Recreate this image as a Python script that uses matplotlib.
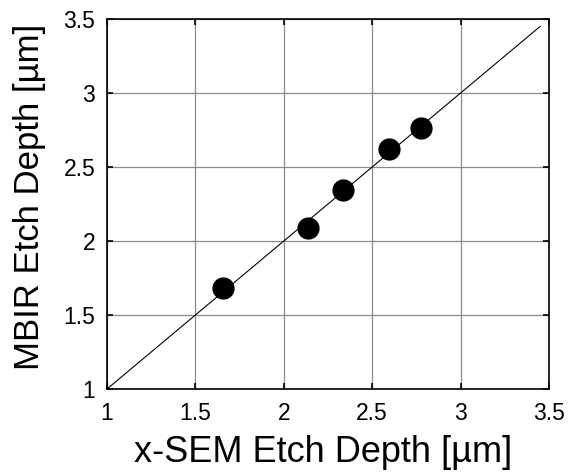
import matplotlib
matplotlib.use("Agg")
import matplotlib.pyplot as plt

plt.rcParams['font.family'] = ['Liberation Sans', 'DejaVu Sans']

# Data
xsem = [1.658, 2.137, 2.335, 2.596, 2.775]
mbir = [1.684, 2.090, 2.343, 2.624, 2.764]
ref_line = [1.0, 3.45]
ticks = [1, 1.5, 2, 2.5, 3, 3.5]
tick_labels = ['1', '1.5', '2', '2.5', '3', '3.5']

fig = plt.figure(figsize=(5.7, 4.76), dpi=100)
ax = fig.add_axes([107/570, 1-389/476, (549-107)/570, (389-19)/476])

ax.plot(ref_line, ref_line, color='black', linewidth=0.8, zorder=2)
ax.plot(xsem, mbir, linestyle='none', marker='o', markersize=15,
        markerfacecolor='black', markeredgecolor='black', zorder=3)

ax.set_xlim(1, 3.5)
ax.set_ylim(1, 3.5)
ax.set_xticks(ticks)
ax.set_yticks(ticks)
ax.set_xticklabels(tick_labels)
ax.set_yticklabels(tick_labels)
ax.tick_params(direction='in', length=4, width=1.2, top=True, right=True,
               labelsize=16.5)
ax.tick_params(axis='x', pad=9)
ax.tick_params(axis='y', pad=8.5)
ax.grid(True, color='#8a8a8a', linewidth=0.9, linestyle='-')
ax.set_axisbelow(True)
for s in ax.spines.values():
    s.set_linewidth(1.2)

ax.set_xlabel('x-SEM Etch Depth [µm]', fontsize=26)
ax.set_ylabel('MBIR Etch Depth [µm]', fontsize=25)
ax.xaxis.set_label_coords(0.49, -0.125)
ax.yaxis.set_label_coords(-0.138, 0.52)

fig.savefig('out.png', dpi=100)
